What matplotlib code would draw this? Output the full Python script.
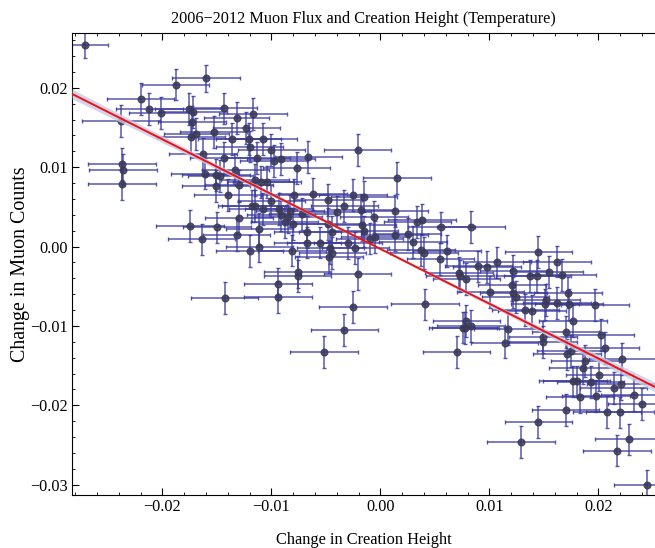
import numpy as np
import matplotlib
matplotlib.use('Agg')
import matplotlib.pyplot as plt
from matplotlib.ticker import MultipleLocator, FuncFormatter

## data
x = [-0.0271, -0.0160, -0.0188, -0.0220, -0.0212, -0.0201, -0.0176, -0.0172, -0.0144, -0.0132,
     -0.0117, -0.0173, -0.0169, -0.0174, -0.0153, -0.0123, -0.0136, -0.0121, -0.0108, -0.0120,
     -0.0100, -0.0163, -0.0144, -0.0113, -0.0133, -0.0237, -0.0236, -0.0237, -0.0161, -0.0151,
     -0.0147, -0.0151, -0.0115, -0.0110, -0.0104, -0.0238, -0.0130, -0.0140, -0.0118, -0.0115,
     -0.0108, -0.0100, -0.0130, -0.0175, -0.0150, -0.0111, -0.0132, -0.0164, -0.0111, -0.0120,
     -0.0143, -0.0062, -0.0079, -0.0025, -0.0015, -0.0048, -0.0033, -0.0093, -0.0083, -0.0040,
     -0.0018, 0.0013, -0.0091, -0.0072, -0.0006, -0.0085, -0.0088, 0.0038, 0.0034, -0.0080,
     -0.0017, -0.0048, 0.0056, -0.0067, -0.0044, -0.0015, 0.0013, 0.0025, -0.0005, -0.0010,
     -0.0067, -0.0055, -0.0030, 0.0030, -0.0046, -0.0023, -0.0081, 0.0037, 0.0040, 0.0061,
     -0.0044, -0.0047, 0.0055, -0.0076, -0.0076, -0.0021, 0.0072, 0.0073, -0.0094, -0.0094,
     -0.0025, 0.0041, -0.0033, 0.0076, -0.0021, 0.0015, -0.0066, -0.0091, -0.0098, -0.0077,
     0.0083, 0.0145, 0.0162, 0.0090, 0.0098, 0.0107, 0.0079, 0.0122, 0.0137, 0.0144,
     0.0155, 0.0167, 0.0121, 0.0101, 0.0122, 0.0124, 0.0152, 0.0172, 0.0162, 0.0151,
     0.0173, 0.0197, 0.0133, 0.0139, 0.0177, 0.0079, 0.0083, 0.0078, 0.0117, 0.0170,
     0.0202, 0.0149, 0.0114, 0.0149, 0.0070, 0.0206, 0.0171, 0.0175, 0.0222, 0.0188,
     0.0186, 0.0201, 0.0177, 0.0180, 0.0193, 0.0221, 0.0214, 0.0233, 0.0183, 0.0198,
     0.0240, 0.0170, 0.0208, 0.0220, 0.0145, 0.0129, 0.0228, 0.0217, 0.0245, -0.0052]
y = [0.0254, 0.0212, 0.0204, 0.0186, 0.0173, 0.0168, 0.0173, 0.0169, 0.0174, 0.0162,
     0.0167, 0.0157, 0.0142, 0.0138, 0.0144, 0.0149, 0.0135, 0.0135, 0.0135, 0.0126,
     0.0122, 0.0117, 0.0112, 0.0112, 0.0097, 0.0104, 0.0097, 0.0079, 0.0092, 0.0090,
     0.0089, 0.0076, 0.0084, 0.0081, 0.0081, 0.0158, 0.0077, 0.0065, 0.0051, 0.0051,
     0.0047, 0.0057, 0.0036, 0.0026, 0.0024, 0.0022, 0.0015, 0.0009, 0.0000, -0.0006,
     -0.0065, 0.0066, 0.0065, 0.0065, 0.0063, 0.0059, 0.0051, 0.0047, 0.0045, 0.0044,
     0.0046, 0.0045, 0.0040, 0.0041, 0.0037, 0.0037, 0.0031, 0.0034, 0.0031, 0.0028,
     0.0027, 0.0028, 0.0024, 0.0018, 0.0018, 0.0019, 0.0015, 0.0016, 0.0012, 0.0010,
     0.0005, 0.0005, 0.0004, 0.0006, -0.0002, -0.0002, -0.0005, -0.0004, -0.0008, -0.0006,
     -0.0008, -0.0013, -0.0016, -0.0032, -0.0037, -0.0035, -0.0033, -0.0037, -0.0047, -0.0064,
     -0.0076, -0.0073, -0.0105, -0.0102, 0.0122, 0.0086, 0.0113, 0.0110, 0.0108, 0.0099,
     0.0025, -0.0007, -0.0019, -0.0025, -0.0026, -0.0020, -0.0041, -0.0031, -0.0037, -0.0037,
     -0.0032, -0.0036, -0.0048, -0.0057, -0.0058, -0.0064, -0.0067, -0.0058, -0.0071, -0.0073,
     -0.0073, -0.0074, -0.0080, -0.0081, -0.0094, -0.0094, -0.0100, -0.0103, -0.0104, -0.0108,
     -0.0111, -0.0114, -0.0121, -0.0120, -0.0133, -0.0128, -0.0136, -0.0132, -0.0142, -0.0144,
     -0.0153, -0.0162, -0.0170, -0.0170, -0.0171, -0.0173, -0.0178, -0.0187, -0.0190, -0.0188,
     -0.0198, -0.0206, -0.0208, -0.0209, -0.0221, -0.0246, -0.0243, -0.0257, -0.0301, -0.0133]
xerr = [0.0021, 0.0031, 0.0031, 0.0031, 0.0031, 0.0030, 0.0031, 0.0031, 0.0031, 0.0030,
        0.0031, 0.0031, 0.0030, 0.0031, 0.0031, 0.0031, 0.0031, 0.0030, 0.0031, 0.0031,
        0.0031, 0.0031, 0.0031, 0.0030, 0.0031, 0.0031, 0.0031, 0.0031, 0.0031, 0.0031,
        0.0030, 0.0031, 0.0031, 0.0031, 0.0031, 0.0036, 0.0031, 0.0031, 0.0031, 0.0030,
        0.0031, 0.0031, 0.0031, 0.0031, 0.0031, 0.0031, 0.0031, 0.0031, 0.0031, 0.0031,
        0.0031, 0.0031, 0.0031, 0.0031, 0.0030, 0.0031, 0.0031, 0.0031, 0.0031, 0.0031,
        0.0031, 0.0031, 0.0031, 0.0030, 0.0031, 0.0031, 0.0031, 0.0031, 0.0031, 0.0031,
        0.0031, 0.0031, 0.0031, 0.0031, 0.0031, 0.0031, 0.0031, 0.0031, 0.0031, 0.0031,
        0.0031, 0.0031, 0.0031, 0.0031, 0.0031, 0.0031, 0.0031, 0.0031, 0.0031, 0.0031,
        0.0031, 0.0031, 0.0031, 0.0031, 0.0031, 0.0031, 0.0031, 0.0031, 0.0031, 0.0031,
        0.0031, 0.0031, 0.0031, 0.0031, 0.0031, 0.0031, 0.0031, 0.0031, 0.0031, 0.0031,
        0.0031, 0.0031, 0.0031, 0.0031, 0.0031, 0.0031, 0.0031, 0.0031, 0.0031, 0.0031,
        0.0031, 0.0031, 0.0031, 0.0031, 0.0031, 0.0031, 0.0031, 0.0031, 0.0031, 0.0031,
        0.0031, 0.0031, 0.0031, 0.0031, 0.0031, 0.0031, 0.0031, 0.0031, 0.0031, 0.0031,
        0.0031, 0.0031, 0.0031, 0.0031, 0.0031, 0.0031, 0.0031, 0.0031, 0.0031, 0.0031,
        0.0031, 0.0031, 0.0031, 0.0031, 0.0031, 0.0031, 0.0031, 0.0031, 0.0031, 0.0031,
        0.0031, 0.0031, 0.0031, 0.0031, 0.0031, 0.0031, 0.0031, 0.0031, 0.0031, 0.0031]
yerr = [0.0016, 0.0017, 0.0020, 0.0020, 0.0020, 0.0020, 0.0020, 0.0020, 0.0020, 0.0020,
        0.0020, 0.0020, 0.0020, 0.0020, 0.0020, 0.0020, 0.0020, 0.0020, 0.0020, 0.0020,
        0.0020, 0.0020, 0.0020, 0.0020, 0.0020, 0.0020, 0.0020, 0.0020, 0.0020, 0.0020,
        0.0020, 0.0020, 0.0020, 0.0020, 0.0020, 0.0020, 0.0020, 0.0020, 0.0020, 0.0020,
        0.0020, 0.0020, 0.0020, 0.0020, 0.0020, 0.0020, 0.0020, 0.0020, 0.0020, 0.0020,
        0.0020, 0.0020, 0.0020, 0.0020, 0.0020, 0.0020, 0.0020, 0.0020, 0.0020, 0.0020,
        0.0020, 0.0020, 0.0020, 0.0020, 0.0020, 0.0020, 0.0020, 0.0020, 0.0020, 0.0020,
        0.0020, 0.0020, 0.0020, 0.0020, 0.0020, 0.0020, 0.0020, 0.0020, 0.0020, 0.0020,
        0.0020, 0.0020, 0.0020, 0.0020, 0.0020, 0.0020, 0.0020, 0.0020, 0.0020, 0.0020,
        0.0020, 0.0020, 0.0020, 0.0020, 0.0020, 0.0020, 0.0020, 0.0020, 0.0020, 0.0020,
        0.0020, 0.0020, 0.0020, 0.0020, 0.0020, 0.0020, 0.0020, 0.0020, 0.0020, 0.0020,
        0.0020, 0.0020, 0.0020, 0.0020, 0.0020, 0.0020, 0.0020, 0.0020, 0.0020, 0.0020,
        0.0020, 0.0020, 0.0020, 0.0020, 0.0020, 0.0020, 0.0020, 0.0020, 0.0020, 0.0020,
        0.0020, 0.0020, 0.0020, 0.0020, 0.0020, 0.0020, 0.0020, 0.0020, 0.0020, 0.0020,
        0.0020, 0.0020, 0.0020, 0.0020, 0.0020, 0.0020, 0.0020, 0.0020, 0.0020, 0.0020,
        0.0020, 0.0020, 0.0020, 0.0020, 0.0020, 0.0020, 0.0020, 0.0020, 0.0020, 0.0020,
        0.0020, 0.0020, 0.0020, 0.0020, 0.0020, 0.0020, 0.0020, 0.0020, 0.0020, 0.0020]

## linear fit and its confidence band
fit_slope = -0.69
fit_intercept = -0.0003
band_x = [-0.0283, -0.0141, 0.0, 0.0126, 0.0252]
band_half = [0.0006, 0.0003, 0.0001, 0.0003, 0.0006]

plt.rcParams['font.family'] = ['Liberation Serif', 'DejaVu Serif']

fig = plt.figure(figsize=(6.55, 5.48), dpi=100)
ax = fig.add_axes([0.110, 0.0967, 0.890, 0.8431])

ax.errorbar(x, y, xerr=xerr, yerr=yerr, fmt='o', color='#3a3a58', markersize=4.8,
            ecolor='#3a3aa0', elinewidth=1.1, capsize=1.6, capthick=1.0, alpha=0.85, zorder=2)

bx = np.array(band_x)
by = np.polyval([fit_slope, fit_intercept], bx)
ax.fill_between(bx, by - np.array(band_half), by + np.array(band_half),
                color='#c8c8e6', alpha=0.8, linewidth=0, zorder=3)
ax.plot(bx, by, color='#ee1111', linewidth=1.4, zorder=4)

ax.set_xlim(-0.0283, 0.0252)
ax.set_ylim(-0.0313, 0.0269)
ax.xaxis.set_major_locator(MultipleLocator(0.01))
ax.xaxis.set_minor_locator(MultipleLocator(0.002))
ax.yaxis.set_major_locator(MultipleLocator(0.01))
ax.yaxis.set_minor_locator(MultipleLocator(0.002))
fmt = FuncFormatter(lambda v, p: ('%.2f' % (0 if abs(v) < 1e-9 else v)).replace('-', '\u2212'))
ax.xaxis.set_major_formatter(fmt)
ax.yaxis.set_major_formatter(fmt)
ax.tick_params(which='both', direction='in', top=True, right=False, labelsize=11.7, pad=3)
ax.tick_params(which='major', length=5, width=0.8)
ax.tick_params(which='minor', length=2.5, width=0.6)
ax.spines['right'].set_visible(False)

ax.set_title('2006\u22122012 Muon Flux and Creation Height (Temperature)', fontsize=11.7, pad=7)
ax.set_xlabel('Change in Creation Height', fontsize=11.8, labelpad=12)
ax.set_ylabel('Change in Muon Counts', fontsize=14.4, labelpad=0)

fig.savefig('out.png', dpi=100)
